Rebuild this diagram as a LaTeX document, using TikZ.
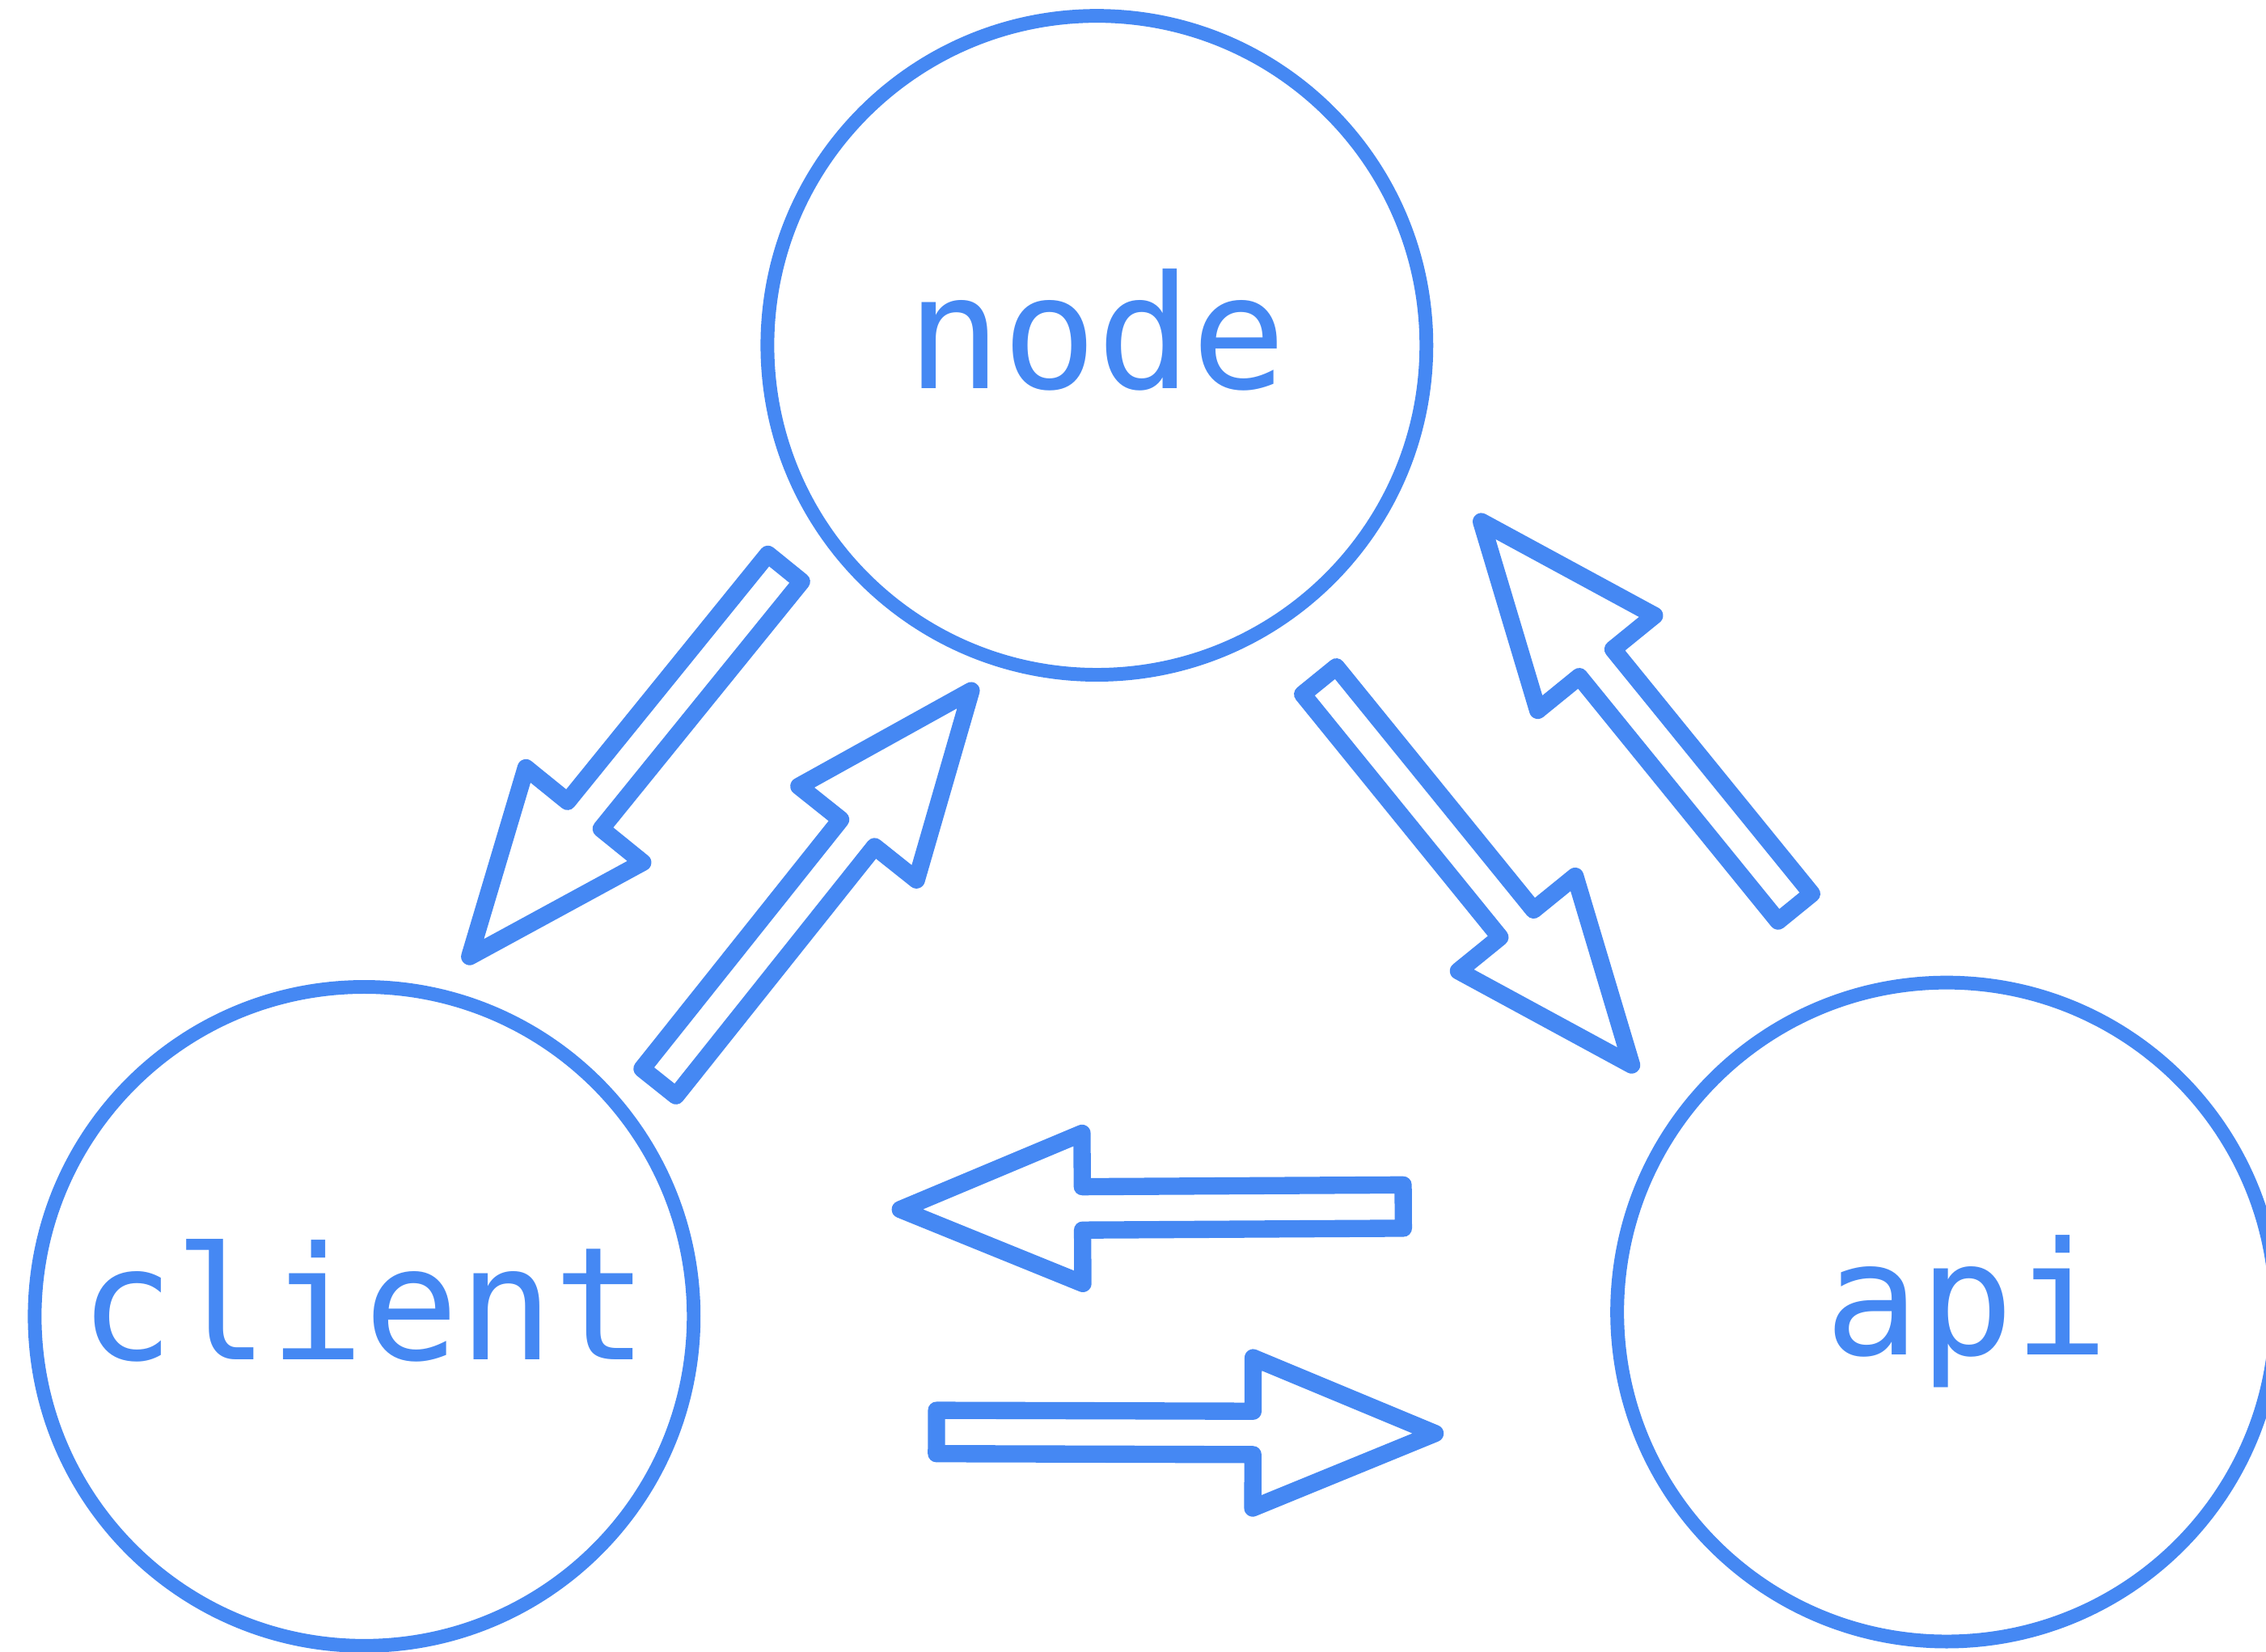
\documentclass[tikz,border=0pt]{standalone}
\usepackage{fontspec}
\setmonofont{DejaVu Sans Mono}
\usetikzlibrary{calc}
\definecolor{sketchblue}{HTML}{4588F3}
\def\blockarrow(#1)(#2){\coordinate (hb) at ($(#2)!1.26cm!(#1)$);
	\draw[arrowline] ($(#1)!0.15cm!90:(#2)$) -- ($(hb)!0.15cm!-90:(#1)$) -- ($(hb)!0.52cm!-90:(#1)$) -- (#2) -- ($(hb)!0.52cm!90:(#1)$) -- ($(hb)!0.15cm!90:(#1)$) -- ($(#1)!0.15cm!-90:(#2)$) -- cycle;}

\begin{document}
\begin{tikzpicture}[
		hub/.style={circle, draw=sketchblue, line width=2.7pt, minimum size=4.56cm, inner sep=0pt, text=sketchblue, font=\fontsize{31}{31}\selectfont\ttfamily, text height=16.9pt, text depth=0pt},
		arrowline/.style={draw=sketchblue, line width=3.4pt, line join=round}]
			%%%%% START %%%%%
			
			\useasboundingbox (0, 0) rectangle (15.68, 11.43);
			
			\node[hub] (nodejs) at (7.59, 9.04) {node};
			\node[hub] (client) at (2.52, 2.32) {client};
			\node[hub] (api) at (13.47, 2.35) {\hspace*{0.28cm}api};
			
			% node <-> client
			\coordinate (nc-tail) at (5.43, 7.50);
			\coordinate (nc-tip) at (3.25, 4.81);
			\blockarrow(nc-tail)(nc-tip)
			\coordinate (cn-tail) at (4.56, 3.94);
			\coordinate (cn-tip) at (6.72, 6.65);
			\blockarrow(cn-tail)(cn-tip)
			
			% node <-> api
			\coordinate (na-tail) at (9.13, 6.72);
			\coordinate (na-tip) at (11.29, 4.06);
			\blockarrow(na-tail)(na-tip)
			\coordinate (an-tail) at (12.42, 5.15);
			\coordinate (an-tip) at (10.25, 7.82);
			\blockarrow(an-tail)(an-tip)
			
			% api <-> client
			\coordinate (ac-tail) at (9.71, 3.08);
			\coordinate (ac-tip) at (6.23, 3.06);
			\blockarrow(ac-tail)(ac-tip)
			\coordinate (ca-tail) at (6.48, 1.52);
			\coordinate (ca-tip) at (9.93, 1.51);
			\blockarrow(ca-tail)(ca-tip)
			
			%%%%% END %%%%%
\end{tikzpicture}
\end{document}
